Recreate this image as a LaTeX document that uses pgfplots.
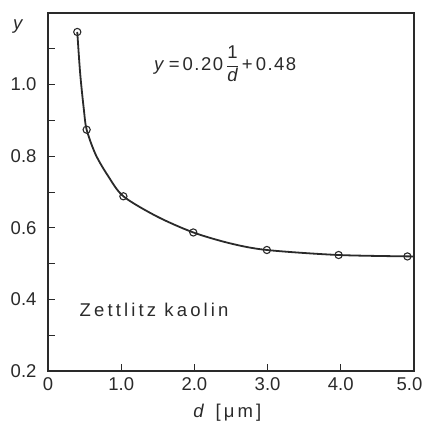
\documentclass[border=0pt]{standalone}
\usepackage{pgfplots}
\pgfplotsset{compat=1.18}
\usepackage{fontspec}
\setmainfont{Liberation Sans}
\newfontfamily\spaced[LetterSpace=17]{Liberation Sans}
\newfontfamily\lspaced[LetterSpace=8]{Liberation Sans}
\definecolor{ink}{HTML}{2A2A2A}
\begin{document}
\begin{tikzpicture}
\begin{axis}[
 scale only axis, width=366pt, height=358pt,
 xmin=0, xmax=5, ymin=0.2, ymax=1.2,
 axis line style={line width=1.2pt, color=ink},
 xtick={0,1,2,3,4,5}, xticklabels={0,1.0,2.0,3.0,4.0,{\hspace*{-9pt}5.0}},
 ytick={0.2,0.4,0.6,0.8,1.0}, yticklabels={0.2,0.4,0.6,0.8,1.0},
 minor ytick={0.3,0.5,0.7,0.9,1.1},
 tick align=inside, tick pos=left,
 major tick length=7pt, minor tick length=7pt,
 every tick/.style={line width=0.9pt, ink},
 ticklabel style={font=\fontsize{18.5}{18.5}\selectfont, color=ink},
 xticklabel style={yshift=-3pt},
 yticklabel style={xshift=-8pt},
 xlabel={\textit{d} [\,μm]},
 ylabel={\textit{y}},
 label style={font=\fontsize{18.5}{18.5}\selectfont\spaced, color=ink},
 xlabel style={at={(axis description cs:0.49,0)}, anchor=center, yshift=-42pt},
 ylabel style={at={(axis description cs:-0.077,0.961)}, rotate=-90, anchor=center},
 clip=false,
]
\addplot[smooth, line width=1.8pt, ink] coordinates {(0.40,1.147)(0.44,1.03)(0.49,0.93)(0.528,0.874)(0.65,0.805)(0.82,0.745)(1.03,0.688)(1.485,0.632)(1.985,0.587)(2.5,0.556)(2.99,0.538)(3.97,0.524)(5.0,0.52)};
\addplot[only marks, mark=o, mark size=3.6pt, mark options={fill=white, line width=1.1pt, ink}] coordinates {(0.40,1.147)(0.528,0.874)(1.03,0.688)(1.985,0.587)(2.99,0.538)(3.97,0.524)(4.91,0.52)};
\node[font=\fontsize{18.5}{18.5}\selectfont\lspaced, text=ink] at (axis cs:2.42,1.058) {\textit{y}\,=\,0.20\,$\displaystyle\frac{\mbox{1}}{\mbox{\itshape d}}$\,+\,0.48};
\node[font=\fontsize{18.5}{18.5}\selectfont\spaced, text=ink] at (axis cs:1.45,0.372) {Zettlitz kaolin};
\end{axis}
\pgfresetboundingbox
\path[use as bounding box] ([shift={(-48pt,-52pt)}]current axis.south west) rectangle ([shift={(11pt,13pt)}]current axis.north east);
\end{tikzpicture}
\end{document}
